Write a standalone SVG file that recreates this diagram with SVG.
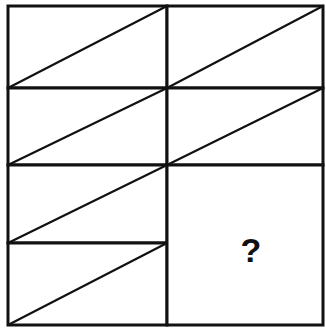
<svg xmlns="http://www.w3.org/2000/svg" width="326" height="330" viewBox="0 0 326 330">
<style>
.cell{fill:#fff;stroke:#111;stroke-width:3}
.diag{stroke:#111;stroke-width:2.2;fill:none;stroke-linecap:round}
.q{font-family:"Liberation Sans",Arial,sans-serif;font-weight:bold;font-size:34px;fill:#111;text-anchor:middle}
</style>
<rect width="326" height="330" fill="#fff"/>
<g id="cell-r1c1"><rect class="cell" x="8" y="6" width="159" height="82"/><line class="diag" x1="8" y1="88" x2="167" y2="6"/></g>
<g id="cell-r1c2"><rect class="cell" x="167" y="6" width="156" height="82"/><line class="diag" x1="167" y1="88" x2="323" y2="6"/></g>
<g id="cell-r2c1"><rect class="cell" x="8" y="88" width="159" height="77"/><line class="diag" x1="8" y1="165" x2="167" y2="88"/></g>
<g id="cell-r2c2"><rect class="cell" x="167" y="88" width="156" height="77"/><line class="diag" x1="167" y1="165" x2="323" y2="88"/></g>
<g id="cell-r3c1"><rect class="cell" x="8" y="165" width="159" height="78"/><line class="diag" x1="8" y1="243" x2="167" y2="165"/></g>
<g id="cell-r4c1"><rect class="cell" x="8" y="243" width="159" height="82"/><line class="diag" x1="8" y1="325" x2="167" y2="243"/></g>
<g id="cell-answer"><rect class="cell" x="167" y="165" width="156" height="160"/><text class="q" x="251" y="262">?</text></g>
<g id="connectors"></g>
</svg>
